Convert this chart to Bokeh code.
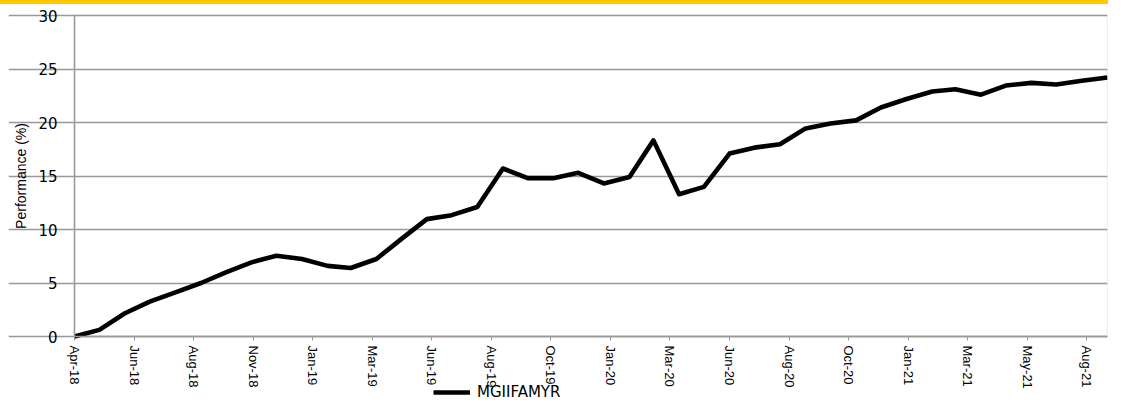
import math
import pandas as pd
from bokeh.plotting import figure
from bokeh.models import (ColumnDataSource, FixedTicker, DatetimeTickFormatter,
                          Legend, LegendItem, Range1d, InlineStyleSheet,
                          BoxAnnotation, Label)
from bokeh.embed import file_html
from bokeh.resources import INLINE

# ---- data -------------------------------------------------------------
months = pd.date_range("2018-04-01", "2021-09-01", freq="MS")
performance = [0.0, 0.62, 2.17, 3.26, 4.13, 5.0, 6.0, 6.93, 7.55, 7.24,
               6.6, 6.4, 7.24, 9.1, 10.97, 11.34, 12.1, 15.7, 14.8, 14.8,
               15.3, 14.3, 14.9, 18.33, 13.3, 13.98, 17.1, 17.65, 17.96, 19.45,
               19.9, 20.2, 21.4, 22.2, 22.9, 23.1, 22.6, 23.45, 23.7, 23.55,
               23.9, 24.2]
series_name = "MGIIFAMYR"
y_title = "Performance (%)"
tick_labels = ["Apr-18", "Jun-18", "Aug-18", "Nov-18", "Jan-19", "Mar-19",
               "Jun-19", "Aug-19", "Oct-19", "Jan-20", "Mar-20", "Jun-20",
               "Aug-20", "Oct-20", "Jan-21", "Mar-21", "May-21", "Aug-21"]
tick_step_days = 72
y_ticks = [0, 5, 10, 15, 20, 25, 30]
y_min, y_max = 0, 30


def to_ms(t):
    return t.value / 1e6


# ---- layout constants (pixels) ----------------------------------------
W, H = 1108, 401
FRAME_LEFT, RIGHT = 8, 1
AXIS_X = 74              # pixel column of the value axis
TOP_PX = 15              # pixel row of y = 30
ZERO_PX = 336            # pixel row of y = 0; space below holds labels + legend
unit_px = (ZERO_PX - TOP_PX) / (y_max - y_min)
y_top = y_max + TOP_PX / unit_px
y_bottom = y_min - (H - ZERO_PX) / unit_px
frame_w = W - FRAME_LEFT - RIGHT
x0, x1 = to_ms(months[0]), to_ms(months[-1])
x_start = x0 - (x1 - x0) * ((AXIS_X - FRAME_LEFT) / (frame_w - (AXIS_X - FRAME_LEFT)))

source = ColumnDataSource(dict(date=months, perf=performance))

band_css = InlineStyleSheet(css="""
:host::after {
  content: "";
  position: absolute;
  left: 0; top: 0;
  width: 100%; height: 4px;
  background-color: #FFC800;
  z-index: 100;
  pointer-events: none;
}
""")

GRAY = "#999999"
p = figure(width=W, height=H, x_axis_type="datetime",
           output_backend="svg", toolbar_location=None,
           x_range=Range1d(x_start, x1), y_range=Range1d(y_bottom, y_top),
           min_border_left=FRAME_LEFT, min_border_right=RIGHT, min_border_top=0,
           min_border_bottom=0)
p.stylesheets = [band_css]
p.background_fill_color = "white"
p.border_fill_color = "white"
p.outline_line_color = None

# chart box (0..30 over the full date span)
box = BoxAnnotation(left=x0, right=x1, bottom=y_min, top=y_max,
                    fill_alpha=0, line_color=GRAY, line_width=1.3, level="underlay")
p.add_layout(box)

p.xgrid.grid_line_color = None
p.ygrid.grid_line_color = GRAY
p.ygrid.grid_line_width = 1.3
p.ygrid.bounds = (x0, x1)

r = p.line("date", "perf", source=source, line_color="black", line_width=4.6,
           line_join="round")

# x axis at y = 0, ticks every 72 days from the first month
tick_dates = [months[0] + pd.Timedelta(days=tick_step_days * k) for k in range(len(tick_labels))]
tick_ms = [int(d.value // 10**6) for d in tick_dates]
xa = p.xaxis[0]
xa.fixed_location = 0
xa.bounds = (x0, x1)
xa.ticker = FixedTicker(ticks=tick_ms)
fmt = "%b-%y"
xa.formatter = DatetimeTickFormatter(milliseconds=fmt, seconds=fmt, minsec=fmt, minutes=fmt,
                                     hourmin=fmt, hours=fmt, days=fmt, months=fmt, years=fmt)
xa.major_label_overrides = {ms: lab for ms, lab in zip(tick_ms, tick_labels)}
xa.major_label_orientation = "vertical"
xa.major_label_text_font = "Liberation Sans"
xa.major_label_text_font_size = "13px"
xa.major_label_text_color = "black"
xa.major_label_standoff = 5
xa.major_tick_in = 0
xa.major_tick_out = 4
xa.minor_tick_out = 0
xa.minor_tick_in = 0
xa.axis_line_color = GRAY
xa.axis_line_width = 1.5
xa.major_tick_line_color = GRAY

# y axis at the first date
ya = p.yaxis[0]
ya.fixed_location = x0
ya.ticker = FixedTicker(ticks=y_ticks)
ya.bounds = (y_min, y_max)
ya.major_label_text_font = "DejaVu Sans"
ya.major_label_text_font_size = "15px"
ya.major_label_text_color = "black"
ya.major_tick_in = 0
ya.major_tick_out = 7
ya.minor_tick_out = 0
ya.minor_tick_in = 0
ya.major_label_standoff = 10
ya.axis_line_color = GRAY
ya.axis_line_width = 1.5
ya.major_tick_line_color = GRAY

# y title, centred on the 0..30 span
p.add_layout(Label(x=12, x_units="screen", y=(y_min + y_max) / 2, y_units="data",
                   text=y_title, angle=math.pi / 2, text_align="center",
                   text_baseline="middle", text_font="Liberation Sans",
                   text_font_size="14px", text_color="black"))

legend = Legend(items=[LegendItem(label=series_name, renderers=[r])],
                location=(433 - FRAME_LEFT, 0), orientation="horizontal",
                border_line_color=None, background_fill_alpha=0,
                padding=0, margin=0, spacing=0,
                glyph_width=37, glyph_height=14, label_height=14,
                label_standoff=7,
                label_text_font="DejaVu Sans", label_text_font_size="15px",
                label_text_color="black")
p.add_layout(legend)

open("out.html", "w").write(file_html(p, INLINE))
